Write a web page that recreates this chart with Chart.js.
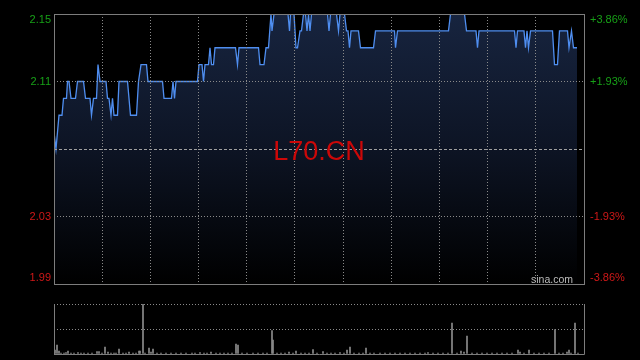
<!DOCTYPE html>
<html><head><meta charset="utf-8">
<script src="https://cdn.jsdelivr.net/npm/chart.js@4/dist/chart.umd.min.js"></script>
<style>
html,body{margin:0;padding:0;background:#000;width:640px;height:360px;overflow:hidden}
#w1{position:absolute;left:0;top:0;width:640px;height:290px}
#w2{position:absolute;left:0;top:290px;width:640px;height:70px}
canvas{display:block}
</style></head><body>
<div id="w1"><canvas id="price" width="640" height="290"></canvas></div>
<div id="w2"><canvas id="vol" width="640" height="70"></canvas></div>
<script>
const symbol = 'L70.CN';
const source = 'sina.com';
const prevClose = 2.07;
const priceTicks = [1.99, 2.03, 2.07, 2.11, 2.15];
const pctTicks = [-3.86, -1.93, 0, 1.93, 3.86];
const sessionLength = 530;
const timeDivisions = 11;
const volTicks = [0, 50, 100];

const priceTime = [0,2,5,8,9.5,12.5,13.5,15,17,21.5,23.5,29.5,31.5,36,37.5,39.5,42.5,44,46,52,53.5,55,57,58.5,60,63.5,65,73.5,76.5,82.5,84.5,87,92.5,94,
108.5,110,117.5,119,120.5,122,143.5,145,148,149.5,151,154.5,156,157.5,159.5,161,181.5,183.5,185,204.5,206,210,212,214.5,217,218,220,234,235.5,236.5,240,242,243.5,246,247.5,249.5,251.5,253,254.5,256,257.5,
273.5,275,276.5,282.5,284.5,286,290.5,292.5,294,295.5,297,304.5,306.5,319.5,321.5,340.5,341.5,343.5,394.5,396.5,410.5,412.5,422,423.5,425,460.5,462,463.5,470,471.5,473,474.5,476.5,498.5,500.5,503.5,505.5,513.5,515,517.5,519.5,523];
const priceValue = [2.08,2.07,2.09,2.09,2.10,2.10,2.11,2.11,2.10,2.10,2.11,2.11,2.10,2.10,2.09,2.10,2.10,2.12,2.11,2.11,2.10,2.10,2.09,2.10,2.09,2.09,2.11,2.11,2.09,2.09,2.11,2.12,2.12,2.11,
2.11,2.10,2.10,2.11,2.10,2.11,2.11,2.12,2.12,2.11,2.12,2.12,2.13,2.12,2.12,2.13,2.13,2.12,2.13,2.13,2.12,2.12,2.13,2.13,2.15,2.14,2.15,2.15,2.14,2.15,2.15,2.13,2.13,2.14,2.14,2.15,2.15,2.14,2.15,2.14,2.15,
2.15,2.14,2.15,2.15,2.14,2.15,2.15,2.14,2.14,2.13,2.14,2.14,2.13,2.13,2.14,2.14,2.13,2.14,2.14,2.15,2.15,2.14,2.14,2.13,2.14,2.14,2.13,2.14,2.14,2.13,2.14,2.13,2.14,2.14,2.12,2.12,2.14,2.14,2.13,2.14,2.13,2.13];

const volTime = [1,3,5,7,10,12,14,17,20,24,27,30,34,38,43,45,48,51,54,57,60,62,65,69,72,75,79,82,85,86,89,91,95,97,99,103,107,112,117,122,127,132,138,141,146,150,153,157,162,166,170,174,178,182,184,188,193,199,204,209,213,218,219,223,227,231,235,239,242,247,251,255,259,263,269,273,277,281,286,290,293,296,300,305,309,312,316,320,326,331,336,341,346,351,356,361,366,371,374,379,384,389,394,398,403,407,410,413,418,423,428,433,438,443,448,453,458,464,466,470,475,480,485,490,495,501,505,509,513,515,517,521,524];
const volValue = [8,18,6,2,2,3,6,2,2,3,2,2,2,2,5,5,2,14,4,2,2,2,10,2,2,4,2,2,6,6,100,2,12,4,10,2,2,2,2,2,2,2,2,2,3,2,2,4,2,2,2,2,2,20,18,2,2,2,2,2,2,47,28,2,2,2,4,2,6,2,2,2,9,2,5,2,2,2,3,2,8,14,2,2,2,12,2,2,2,2,2,2,2,2,2,2,2,2,3,2,2,2,2,62,2,6,4,36,2,2,2,2,2,2,2,2,2,8,4,2,8,2,2,2,2,49,2,2,4,8,2,62,2];

const GREEN = '#17a017', RED = '#d01818', GRID = '#8a8a8a', FRAME = '#7d7d7d';
Chart.defaults.font.family = '"Liberation Sans", Arial, sans-serif';
const near = (a, b) => Math.abs(a - b) < 1e-9;

const framePlugin = {
  id: 'frame',
  afterDraw(chart) {
    const {ctx, chartArea: a} = chart;
    const y = chart.scales.y.getPixelForValue(prevClose);
    ctx.save();
    ctx.fillStyle = 'rgb(204,8,8)';
    ctx.font = '27px "Liberation Sans", Arial, sans-serif';
    ctx.textAlign = 'center'; ctx.textBaseline = 'alphabetic';
    ctx.fillText(symbol, (a.left + a.right) / 2, y + 10.5);
    ctx.fillStyle = '#bdbdbd';
    ctx.font = '10.5px "Liberation Sans", Arial, sans-serif';
    ctx.textAlign = 'right';
    ctx.fillText(source, a.right - 11, a.bottom - 1);
    ctx.strokeStyle = FRAME; ctx.lineWidth = 1;
    ctx.strokeRect(a.left + 0.5, a.top + 0.5, a.right - a.left, a.bottom - a.top);
    ctx.restore();
  }
};

function tickLabel(text, i, n) {
  if (i === n - 1) return ['', text];
  if (i === 0) return [text, ''];
  return text;
}

new Chart(document.getElementById('price'), {
  type: 'line',
  data: { datasets: [{
    data: priceTime.map((t, i) => ({x: t, y: priceValue[i]})),
    borderColor: '#4f8ef0', borderWidth: 1.3, pointRadius: 0, tension: 0,
    fill: 'start',
    backgroundColor: (c) => {
      const a = c.chart.chartArea;
      if (!a) return 'rgba(0,0,0,0)';
      const g = c.chart.ctx.createLinearGradient(0, a.top, 0, a.bottom);
      g.addColorStop(0, '#17243f');
      g.addColorStop(0.5, '#0d1424');
      g.addColorStop(1, '#000000');
      return g;
    },
    yAxisID: 'y'
  }]},
  options: {
    responsive: false, animation: false,
    layout: { padding: {left: 0, right: 0, top: 14, bottom: 6} },
    plugins: { legend: {display: false}, tooltip: {enabled: false} },
    scales: {
      x: {
        type: 'linear', min: 0, max: sessionLength,
        afterBuildTicks: s => { s.ticks = Array.from({length: timeDivisions + 1}, (_, i) => ({value: i * sessionLength / timeDivisions})); },
        ticks: {display: false},
        grid: {color: GRID, drawTicks: false, z: 1},
        border: {display: false, dash: [1, 2]},
        afterFit: s => { s.height = 0; s.paddingLeft = 0; s.paddingRight = 0; }
      },
      y: {
        type: 'linear', position: 'left', min: priceTicks[0], max: priceTicks[priceTicks.length - 1],
        afterBuildTicks: s => { s.ticks = priceTicks.map(v => ({value: v})); },
        ticks: {
          padding: 3,
          font: {size: 11, lineHeight: 12 / 11},
          color: c => (c.tick && c.tick.value > prevClose) ? GREEN : RED,
          callback: (v, i) => near(v, prevClose) ? '' : tickLabel(v.toFixed(2), i, priceTicks.length)
        },
        grid: {drawTicks: false, z: 1, color: c => (c.tick && near(c.tick.value, prevClose)) ? '#a0a0a0' : GRID},
        border: {display: false, dash: c => c.tick ? (near(c.tick.value, prevClose) ? [3, 2] : [1, 2]) : []},
        afterFit: s => { s.width = 54; s.paddingTop = 0; s.paddingBottom = 0; }
      },
      y2: {
        type: 'linear', position: 'right', display: true, min: pctTicks[0], max: pctTicks[pctTicks.length - 1],
        afterBuildTicks: s => { s.ticks = pctTicks.map(v => ({value: v})); },
        ticks: {
          padding: 6,
          font: {size: 11, lineHeight: 12 / 11},
          color: c => (c.tick && c.tick.value > 0) ? GREEN : RED,
          callback: (v, i) => near(v, 0) ? '' : tickLabel((v > 0 ? '+' : '') + v.toFixed(2) + '%', i, pctTicks.length)
        },
        grid: {display: false, drawTicks: false},
        border: {display: false},
        afterFit: s => { s.width = 56; s.paddingTop = 0; s.paddingBottom = 0; }
      }
    }
  },
  plugins: [framePlugin]
});

const volFrame = {
  id: 'volFrame',
  afterDraw(chart) {
    const {ctx, chartArea: a} = chart;
    ctx.save();
    ctx.strokeStyle = FRAME; ctx.lineWidth = 1;
    ctx.beginPath();
    ctx.moveTo(a.left + 0.5, a.top); ctx.lineTo(a.left + 0.5, a.bottom + 0.5);
    ctx.lineTo(a.right + 0.5, a.bottom + 0.5); ctx.lineTo(a.right + 0.5, a.top);
    ctx.stroke();
    ctx.restore();
  }
};

new Chart(document.getElementById('vol'), {
  type: 'bar',
  data: { datasets: [{
    data: volTime.map((t, i) => ({x: t, y: volValue[i]})),
    backgroundColor: '#8c8c8c', borderWidth: 0, barThickness: 1
  }]},
  options: {
    responsive: false, animation: false,
    layout: { padding: {left: 54, right: 56, top: 14, bottom: 6} },
    plugins: { legend: {display: false}, tooltip: {enabled: false} },
    scales: {
      x: {
        type: 'linear', min: 0, max: sessionLength, offset: false,
        ticks: {display: false}, grid: {display: false}, border: {display: false},
        afterFit: s => { s.height = 0; s.paddingLeft = 0; s.paddingRight = 0; }
      },
      y: {
        min: volTicks[0], max: volTicks[volTicks.length - 1],
        afterBuildTicks: s => { s.ticks = volTicks.map(v => ({value: v})); },
        ticks: {display: false},
        grid: {color: GRID, drawTicks: false},
        border: {display: false, dash: [1, 2]},
        afterFit: s => { s.width = 0; s.paddingTop = 0; s.paddingBottom = 0; }
      }
    }
  },
  plugins: [volFrame]
});
</script>
</body></html>
